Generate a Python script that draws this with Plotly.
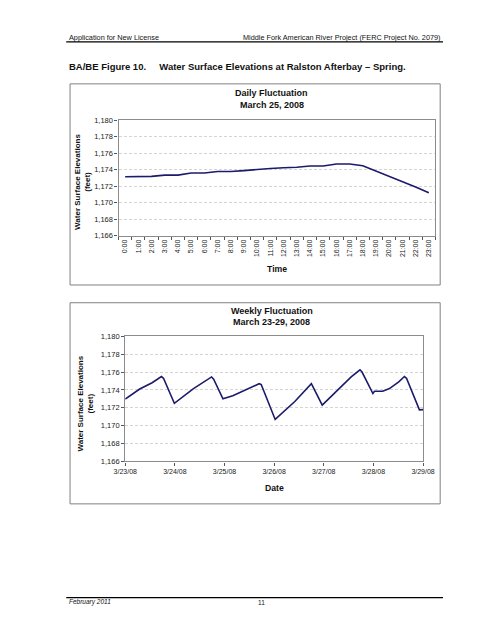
import plotly.graph_objects as go

W, H = 495, 640

# ---- data ----
hours = [f"{h}:00" for h in range(24)]
daily_elev = [1173.15, 1173.15, 1173.2, 1173.35, 1173.35, 1173.6, 1173.6, 1173.8,
              1173.8, 1173.9, 1174.05, 1174.15, 1174.25, 1174.3, 1174.45, 1174.45,
              1174.7, 1174.7, 1174.5, 1173.85, 1173.2, 1172.6, 1171.9, 1171.2]

week_times = ["2008-03-23 00:00", "2008-03-23 07:00", "2008-03-23 13:00", "2008-03-23 17:30",
              "2008-03-23 18:30", "2008-03-23 23:45", "2008-03-24 09:00", "2008-03-24 15:00",
              "2008-03-24 17:45", "2008-03-24 18:45", "2008-03-24 23:15", "2008-03-25 04:00",
              "2008-03-25 11:30", "2008-03-25 16:45", "2008-03-25 17:45", "2008-03-26 00:30",
              "2008-03-26 10:00", "2008-03-26 18:00", "2008-03-26 23:15", "2008-03-27 08:30",
              "2008-03-27 13:15", "2008-03-27 17:30", "2008-03-27 18:30", "2008-03-27 23:45",
              "2008-03-28 00:30", "2008-03-28 04:30", "2008-03-28 07:45", "2008-03-28 12:15",
              "2008-03-28 15:00", "2008-03-28 16:00", "2008-03-28 22:15", "2008-03-29 00:00"]
week_elev = [1172.98, 1174.1, 1174.8, 1175.5, 1175.3, 1172.5, 1174.15, 1175.0,
             1175.45, 1175.2, 1173.0, 1173.35, 1174.1, 1174.7, 1174.6, 1170.7,
             1172.7, 1174.7, 1172.3, 1174.35, 1175.45, 1176.25, 1176.0, 1173.6,
             1173.85, 1173.85, 1174.15, 1174.9, 1175.5, 1175.3, 1171.77, 1171.8]

y_range = [1166, 1180]
date_ticks = ["2008-03-23", "2008-03-24", "2008-03-25", "2008-03-26",
              "2008-03-27", "2008-03-28", "2008-03-29"]
date_labels = ["3/23/08", "3/24/08", "3/25/08", "3/26/08", "3/27/08", "3/28/08", "3/29/08"]

FONT = "Arial, Liberation Sans, sans-serif"
LINE = "#1c1a6b"


def px(x):
    return x / W


def py(y):
    return 1 - y / H


fig = go.Figure()
fig.add_trace(go.Scatter(x=hours, y=daily_elev, mode="lines", xaxis="x", yaxis="y",
                         line=dict(color=LINE, width=1.6), showlegend=False))
fig.add_trace(go.Scatter(x=week_times, y=week_elev, mode="lines", xaxis="x2", yaxis="y2",
                         line=dict(color=LINE, width=1.6), showlegend=False))

axis_common = dict(showline=True, linecolor="#8c8c8c", linewidth=1.2, mirror=True,
                   ticks="outside", ticklen=3, tickcolor="#555")
yaxis_common = dict(axis_common, range=y_range, dtick=2, tickformat=",",
                    tickfont=dict(family=FONT, size=7.5, color="#222"),
                    showgrid=True, gridcolor="#d4d4d4", griddash="3px,2px", gridwidth=1,
                    zeroline=False)

fig.update_layout(
    width=W, height=H, margin=dict(l=0, r=0, t=0, b=0),
    paper_bgcolor="white", plot_bgcolor="white",
    xaxis=dict(axis_common, domain=[px(112), px(445)], anchor="y", type="category",
               range=[-0.5, 23.5], tickangle=-90, tickson="boundaries", showgrid=False,
               tickfont=dict(family=FONT, size=7, color="#222")),
    yaxis=dict(yaxis_common, domain=[py(235), py(118)], anchor="x"),
    xaxis2=dict(axis_common, domain=[px(119), px(432)], anchor="y2", type="date",
                range=["2008-03-23", "2008-03-29"], tickvals=date_ticks, ticktext=date_labels,
                showgrid=False, tickfont=dict(family=FONT, size=7, color="#222")),
    yaxis2=dict(yaxis_common, domain=[py(464), py(337)], anchor="x2"),
)

shapes = [
    dict(type="line", xref="paper", yref="paper", x0=px(57), x1=px(453), y0=py(38.5), y1=py(38.5),
         line=dict(color="black", width=1.3)),
    dict(type="line", xref="paper", yref="paper", x0=px(57), x1=px(453), y0=py(602), y1=py(602),
         line=dict(color="black", width=1.3)),
    dict(type="rect", xref="paper", yref="paper", x0=px(61), x1=px(450), y0=py(285), y1=py(81),
         line=dict(color="#808080", width=1)),
    dict(type="rect", xref="paper", yref="paper", x0=px(61), x1=px(450), y0=py(507), y1=py(303),
         line=dict(color="#808080", width=1)),
]
fig.update_layout(shapes=shapes)


def ann(text, x, y, size, bold=False, italic=False, xanchor="center", angle=0, color="#111"):
    t = text
    if bold:
        t = f"<b>{t}</b>"
    if italic:
        t = f"<i>{t}</i>"
    fig.add_annotation(text=t, x=px(x), y=py(y), xref="paper", yref="paper",
                       xanchor=xanchor, yanchor="middle", showarrow=False, textangle=angle,
                       font=dict(family=FONT, size=size, color=color))


ann("Application for New License", 58, 33.5, 7.3, xanchor="left")
ann("Middle Fork American River Project (FERC Project No. 2079)", 452, 33.5, 7.3, xanchor="right")
ann("BA/BE Figure 10.&nbsp;&nbsp;&nbsp;&nbsp; Water Surface Elevations at Ralston Afterbay – Spring.",
    58, 63, 9.5, bold=True, xanchor="left")

ann("Daily Fluctuation", 273, 90, 9, bold=True)
ann("March 25, 2008", 273, 102, 9, bold=True)
ann("Water Surface Elevations<br>(feet)", 74, 180, 8, bold=True, angle=-90)
ann("Time", 278, 269, 8.7, bold=True)

ann("Weekly Fluctuation", 273, 311, 9, bold=True)
ann("March 23-29, 2008", 273, 323, 9, bold=True)
ann("Water Surface Elevations<br>(feet)", 77, 405, 8, bold=True, angle=-90)
ann("Date", 276, 491, 8.7, bold=True)

ann("February 2011", 58, 607, 6.5, italic=True, xanchor="left")
ann("11", 262, 607, 6.5)

fig.write_html("out.html", config={"displayModeBar": False},
               post_script="document.body.style.margin='0';document.body.style.overflow='hidden';")
